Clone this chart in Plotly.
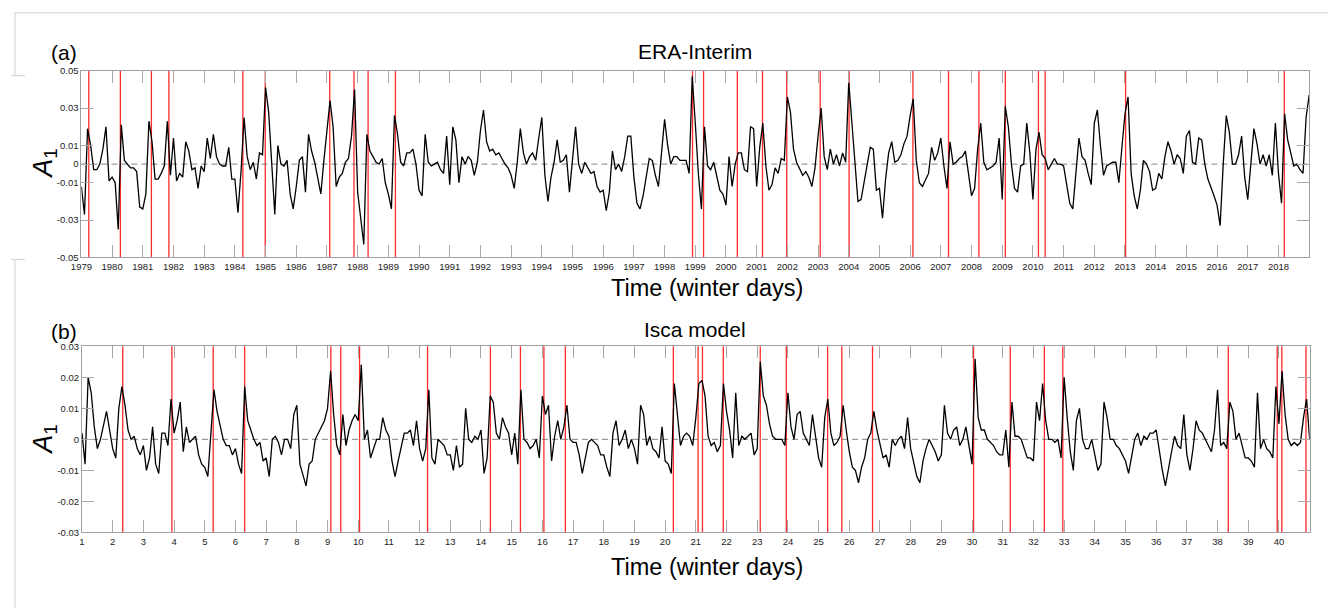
import numpy as np
import plotly.graph_objects as go

# ---------------- data (A1 values in units of 1e-3, 10 samples per winter) ----------------
era_years = list(range(1979, 2019))
era_a1_milli = [
    -12, -27, 19, 10, -3, -3, 0, 8, 20, -9,        # 1979
    -7, -10, -35, 21, 2, 0, -2, -2, -4, -23,       # 1980
    -24, -16, 23, 12, -8, -8, -5, -1, 23, -6,      # 1981
    14, -9, -5, -7, 12, 7, -3, -2, -13, -1,        # 1982
    -4, 14, 3, 16, 4, 0, -1, -1, 9, -8,            # 1983
    -8, -26, -4, 25, 4, -3, 1, -8, 6, 5,           # 1984
    41, 28, -3, -27, 10, 0, -1, 2, -16, -24,       # 1985
    -12, 2, 4, -15, 16, 7, 1, -7, -16, 2,          # 1986
    18, 34, 20, -12, -7, -5, 1, 3, 15, 40,         # 1987
    -15, -29, -43, 16, 7, 4, 1, 0, 3, -10,         # 1988
    -16, -24, 26, 16, 1, -1, 6, 6, 8, 0,           # 1989
    -14, -17, 16, 1, -1, 0, 1, -3, -5, 15,         # 1990
    -11, 20, 13, -10, 4, 0, 4, 2, -6, 1,           # 1991
    18, 29, 12, 7, 8, 5, 6, 3, 0, -2,              # 1992
    -6, -13, 1, 19, 6, 0, 4, 6, 2, 14,             # 1993
    25, -6, -20, -7, 1, 13, 1, 2, 5, -15,          # 1994
    2, 20, 0, -5, 1, -2, -5, -4, -12, -15,         # 1995
    -14, -25, -15, 7, -3, 0, -4, 4, 15, 15,        # 1996
    -7, -21, -24, -17, -6, 3, 2, -6, -12, 5,       # 1997
    24, 10, 0, 4, 4, 2, 2, 2, -5, 47,              # 1998
    22, -5, -24, 20, -1, -3, 1, -6, -14, -16,      # 1999
    -22, 4, -12, 0, 6, 6, -3, -4, 20, 19,          # 2000
    -12, 9, 22, -1, -14, -11, -2, -5, 3, 2,        # 2001
    36, 28, 8, 1, -3, -6, -4, -7, -12, -2,         # 2002
    15, 30, 4, -3, 8, 0, 5, -1, 6, 1,              # 2003
    44, 22, 0, -20, -19, -10, -1, 9, 8, -14,       # 2004
    -13, -29, -8, 6, 12, 1, 2, 5, 11, 15,          # 2005
    26, 35, 2, -10, -12, -8, -5, 9, 2, 6,          # 2006
    14, -1, -13, 12, 0, 1, 3, 4, 7, -5,            # 2007
    -17, -13, 8, 22, 1, -3, -2, -1, 1, 14,         # 2008
    -19, 31, 20, 0, -13, -15, -1, 0, 22, 6,        # 2009
    -19, 8, 17, 5, 3, -3, 0, 3, 0, 0,              # 2010
    -1, -12, -21, -24, -5, 14, 4, 2, -5, -11,      # 2011
    22, 29, 10, -6, -1, 0, 1, 1, -10, 9,           # 2012
    27, 36, -5, -17, -24, -14, 2, 0, -4, -14,      # 2013
    -13, -5, -8, 4, 12, 7, 0, 5, 3, -5,            # 2014
    15, 18, 1, 0, 14, 13, 0, -8, -12, -17,         # 2015
    -22, -33, 0, 26, 17, 0, 0, 5, 15, -7,          # 2016
    -19, 0, 19, 11, 0, 5, -1, 5, -6, 22,           # 2017
    -5, -21, 27, 13, 6, -1, 0, -3, -5, 25,         # 2018
    37,
]
era_events = [1979.24, 1980.27, 1981.28, 1981.85, 1984.26, 1984.99, 1987.09, 1987.88,
              1988.34, 1989.23, 1998.91, 1999.27, 2000.37, 2001.19, 2001.98, 2003.07,
              2004.01, 2006.09, 2007.25, 2008.24, 2009.10, 2010.18, 2010.40, 2013.02,
              2018.19]
era_yticks = [-0.05, -0.03, -0.01, 0, 0.01, 0.03, 0.05]
era_yticktext = ["-0.05", "-0.03", "-0.01", "0", "0.01", "0.03", "0.05"]

isca_winters = list(range(1, 41))
isca_a1_milli = [
    2, -8, 20, 15, 4, -3, 0, 4, 9, 3,              # 1
    -3, -6, 10, 17, 11, 3, 0, 1, -3, -5,           # 2
    -2, -10, -6, 4, -8, -11, 2, 2, -2, 13,         # 3
    2, 6, 12, -4, 4, -1, 0, 1, -5, -8,             # 4
    -9, -12, 2, 16, 9, 5, 0, -2, -2, -5,           # 5
    -3, -8, -11, 17, 6, 3, 0, -2, -1, -7,          # 6
    -6, -12, 0, 1, -1, -5, 0, 0, -3, 8,            # 7
    11, -8, -12, -15, -8, -7, 0, 2, 4, 6,          # 8
    10, 22, 8, -2, -5, 8, -2, 3, 6, 8,             # 9
    6, 24, 0, 3, -6, -3, 0, 0, 7, 3,               # 10
    1, -7, -12, -7, -2, 2, 2, 3, -2, 6,            # 11
    -3, -7, -3, 16, -6, -8, 0, -1, -2, -5,         # 12
    -5, -10, -2, -9, -8, 10, 0, -1, 1, 0,          # 13
    3, -11, -6, 14, 12, 2, 0, 7, 4, 2,             # 14
    -5, 2, -8, 16, 0, -1, -3, -2, 0, -6,           # 15
    14, 8, 11, -7, 1, 6, 0, 4, 11, 0,              # 16
    -1, -1, -5, -11, -6, -1, 0, -1, -2, -5,        # 17
    -5, -9, -12, 2, 6, -2, 0, 3, -3, 0,            # 18
    -3, -8, 11, 8, -2, 1, -3, -4, -6, 4,           # 19
    -7, -8, -11, 18, 7, -2, 1, 2, 1, -2,           # 20
    7, 18, 19, 14, 1, -2, -1, -4, -2, 18,          # 21
    9, 3, -6, 15, -2, 1, 0, 1, 2, -5,              # 22
    -3, 25, 14, 11, 5, 1, 0, 0, 0, -2,             # 23
    15, 4, 0, 8, 9, 2, 0, -2, 8, 1,                # 24
    -6, -9, 7, 13, 2, -2, -1, 1, 11, 3,            # 25
    -4, -9, -10, -14, -9, -6, 0, 2, 9, 3,          # 26
    -2, -6, -5, -9, 0, -2, 0, 1, -3, 7,            # 27
    -3, -8, -12, -14, -7, -3, 0, -2, -4, -7,       # 28
    -5, 11, 2, 0, 3, 4, -2, 0, 4, -2,              # 29
    -8, 26, 7, 3, 3, 0, -1, -2, -4, -5,            # 30
    -5, 3, -9, 12, 1, 1, 0, -3, -6, -6,            # 31
    -7, 12, 6, 18, 6, 0, 0, -1, 0, -6,             # 32
    20, 7, -4, -10, 6, 10, 0, -3, -3, 0,           # 33
    -5, -10, -8, 12, 7, 0, 0, -2, -3, -5,          # 34
    -7, -11, -6, 0, 2, -2, 1, 0, 2, 2,             # 35
    3, -4, -10, -15, -9, -4, 1, -2, -3, 8,         # 36
    -5, -10, -3, 6, 3, 2, 0, -2, -4, 3,            # 37
    16, -2, -1, -3, 12, 9, 0, 2, -2, -6,           # 38
    -6, -7, -9, 15, -3, 0, -3, -4, -6, 17,         # 39
    5, 22, 8, 0, -2, -1, -2, -1, 7, 13,            # 40
    0,
]
isca_events = [2.327, 3.929, 5.275, 6.299, 9.108, 9.431, 10.044, 12.259, 14.306, 15.285,
               16.05, 16.748, 20.267, 21.074, 21.216, 21.894, 23.099, 23.948, 25.294,
               25.756, 26.757, 30.05, 31.245, 32.356, 32.957, 38.349, 39.944, 40.093, 40.88]
isca_yticks = [-0.03, -0.02, -0.01, 0, 0.01, 0.02, 0.03]
isca_yticktext = ["-0.03", "-0.02", "-0.01", "0", "0.01", "0.02", "0.03"]

SAMPLES_PER_WINTER = 10
era_time = era_years[0] + np.arange(len(era_a1_milli)) / SAMPLES_PER_WINTER
isca_time = isca_winters[0] + np.arange(len(isca_a1_milli)) / SAMPLES_PER_WINTER
era_a1 = np.array(era_a1_milli) * 1e-3
isca_a1 = np.array(isca_a1_milli) * 1e-3

# ---------------- layout helpers ----------------
W, H = 1328, 613
FONT = "Liberation Sans, Arial, Helvetica, sans-serif"


def px(x):
    return x / W


def py(y):
    return 1 - y / H


fig = go.Figure()
fig.add_trace(go.Scatter(x=era_time, y=era_a1, mode="lines",
                         line=dict(color="black", width=1.3), xaxis="x", yaxis="y",
                         showlegend=False, hoverinfo="skip"))
fig.add_trace(go.Scatter(x=isca_time, y=isca_a1, mode="lines",
                         line=dict(color="black", width=1.3), xaxis="x2", yaxis="y2",
                         showlegend=False, hoverinfo="skip"))

axis_common = dict(showline=True, linecolor="#a0a0a0", linewidth=1, mirror="ticks",
                   ticks="inside", ticklen=12, tickcolor="#a8a8a8", tickwidth=1,
                   showgrid=False, zeroline=False,
                   tickfont=dict(family=FONT, size=9.5, color="#222"))

shapes = []
for ev in era_events:
    shapes.append(dict(type="line", xref="x", yref="y domain", x0=ev, x1=ev, y0=0, y1=1,
                       line=dict(color="#ff2a2a", width=1.3), layer="below"))
for ev in isca_events:
    shapes.append(dict(type="line", xref="x2", yref="y2 domain", x0=ev, x1=ev, y0=0, y1=1,
                       line=dict(color="#ff2a2a", width=1.3), layer="below"))
for xr, yr in (("x domain", "y"), ("x2 domain", "y2")):
    shapes.append(dict(type="line", xref=xr, yref=yr, x0=0, x1=1, y0=0, y1=0,
                       line=dict(color="#666", width=0.8, dash="6px,4px"), layer="below"))
# faint page frame lines
frame = [((4, 7), (W, 7)), ((4, 7), (4, 71)), ((0, 71), (14, 71)),
         ((0, 258), (14, 258)), ((4, 258), (4, H))]
for (x0, y0), (x1, y1) in frame:
    shapes.append(dict(type="line", xref="paper", yref="paper", x0=px(x0), x1=px(x1),
                       y0=py(y0), y1=py(y1), line=dict(color="#cfcfcf", width=1)))

annotations = []


def text(x, y, s, size, angle=0):
    annotations.append(dict(x=px(x), y=py(y), xref="paper", yref="paper", text=s,
                            showarrow=False, xanchor="center", yanchor="middle",
                            textangle=angle, font=dict(family=FONT, size=size, color="black")))


text(53, 47, "(a)", 21)
text(690, 46, "ERA-Interim", 21)
text(702, 287, "Time (winter days)", 23.5)
text(34, 160, "<i>A</i><sub>1</sub>", 27, -90)
text(53, 331, "(b)", 21)
text(690, 329, "Isca model", 21)
text(702, 571, "Time (winter days)", 23.5)
text(34, 441, "<i>A</i><sub>1</sub>", 27, -90)

fig.update_layout(
    width=W, height=H, margin=dict(l=0, r=0, t=0, b=0),
    paper_bgcolor="white", plot_bgcolor="white",
    xaxis=dict(domain=[px(71), px(1309)], range=[1979, 2019], anchor="y",
               tickvals=era_years, ticktext=[str(v) for v in era_years], **axis_common),
    yaxis=dict(domain=[py(256), py(66)], range=[-0.05, 0.05], anchor="x",
               tickvals=era_yticks, ticktext=era_yticktext, **axis_common),
    xaxis2=dict(domain=[px(71.6), px(1309.5)], range=[1, 41], anchor="y2",
                tickvals=isca_winters, ticktext=[str(v) for v in isca_winters], **axis_common),
    yaxis2=dict(domain=[py(536), py(346.5)], range=[-0.03, 0.03], anchor="x2",
                tickvals=isca_yticks, ticktext=isca_yticktext, **axis_common),
    shapes=shapes, annotations=annotations,
)

fig.write_html(
    "out.html",
    config={"displayModeBar": False},
    post_script=("document.body.style.margin='0';document.body.style.overflow='hidden';"
                 "var d=document.getElementById('{plot_id}');"
                 "d.style.position='fixed';d.style.left='0px';d.style.top='0px';"),
)
